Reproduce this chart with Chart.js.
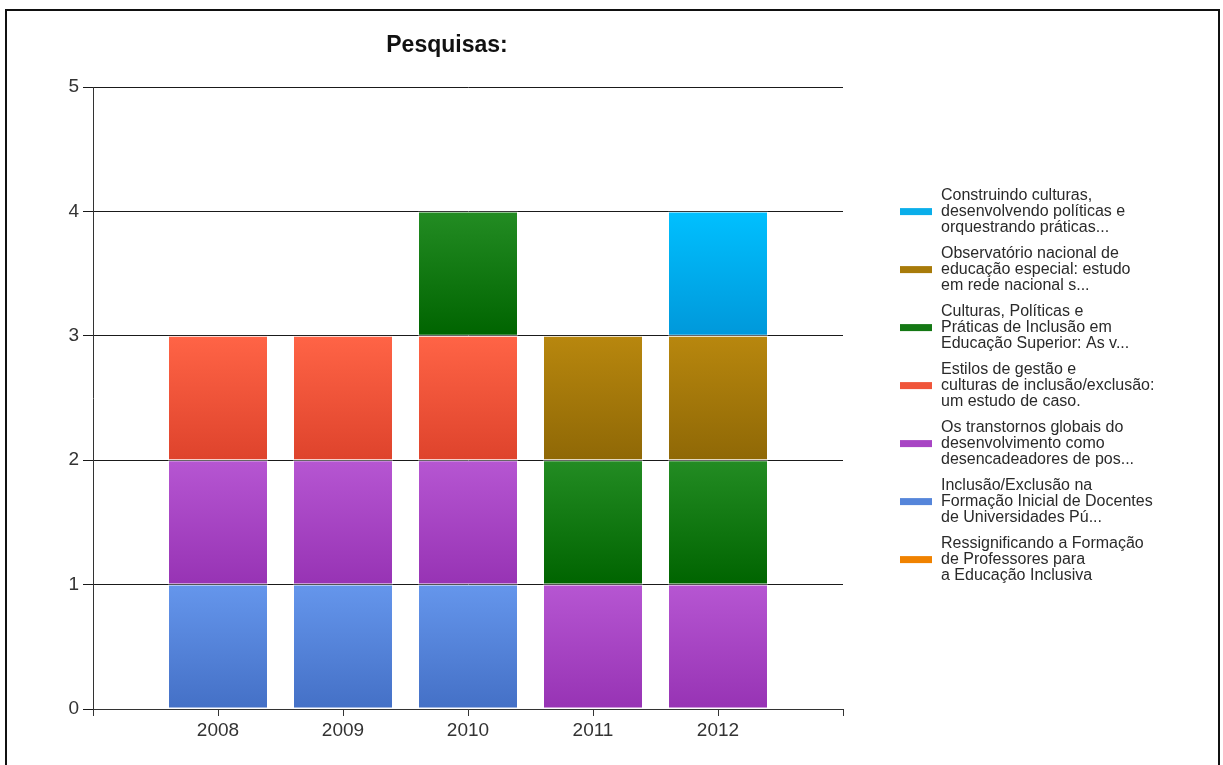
<!DOCTYPE html>
<html><head><meta charset="utf-8">
<script src="https://cdn.jsdelivr.net/npm/chart.js@4.4.0/dist/chart.umd.min.js"></script>
<style>
html,body{margin:0;padding:0;background:#fff;overflow:hidden;}
#wrap{position:relative;width:1223px;height:765px;}
#frame{position:absolute;left:5px;top:9px;width:1215px;height:760px;border:2px solid #111;border-bottom:none;box-sizing:border-box;pointer-events:none;}
canvas{position:absolute;left:0;top:0;}
</style></head><body>
<div id="wrap"><canvas id="c" width="1223" height="765"></canvas><div id="frame"></div></div>
<script>
// ---- data (stack order: bottom first) ----
const categories = ['2008', '2009', '2010', '2011', '2012'];
const chartTitle = 'Pesquisas:';
const yTicks = [0, 1, 2, 3, 4, 5];

const ressignificando = [0, 0, 0, 0, 0];
const inclusaoExclusao = [1, 1, 1, 0, 0];
const transtornosGlobais = [1, 1, 1, 1, 1];
const estilosGestao = [1, 1, 1, 0, 0];
const culturasPoliticas = [0, 0, 1, 1, 1];
const observatorio = [0, 0, 0, 1, 1];
const construindoCulturas = [0, 0, 0, 0, 1];

const nameRessignificando = ['Ressignificando a Formação', 'de Professores para', 'a Educação Inclusiva'];
const nameInclusao = ['Inclusão/Exclusão na', 'Formação Inicial de Docentes', 'de Universidades Pú...'];
const nameTranstornos = ['Os transtornos globais do', 'desenvolvimento como', 'desencadeadores de pos...'];
const nameEstilos = ['Estilos de gestão e', 'culturas de inclusão/exclusão:', 'um estudo de caso.'];
const nameCulturas = ['Culturas, Políticas e', 'Práticas de Inclusão em', 'Educação Superior: As v...'];
const nameObservatorio = ['Observatório nacional de', 'educação especial: estudo', 'em rede nacional s...'];
const nameConstruindo = ['Construindo culturas,', 'desenvolvendo políticas e', 'orquestrando práticas...'];

// ---- styles ----
const series = [
  {name: nameRessignificando, values: ressignificando, top: '#FF9A1A', bottom: '#E67800', box: '#F08200'},
  {name: nameInclusao, values: inclusaoExclusao, top: '#6596EC', bottom: '#4470C6', box: '#5585DA'},
  {name: nameTranstornos, values: transtornosGlobais, top: '#B656D2', bottom: '#9733B4', box: '#A845C4'},
  {name: nameEstilos, values: estilosGestao, top: '#FF6446', bottom: '#DE432C', box: '#F0553A'},
  {name: nameCulturas, values: culturasPoliticas, top: '#238C23', bottom: '#006400', box: '#147814'},
  {name: nameObservatorio, values: observatorio, top: '#B8870E', bottom: '#8F6806', box: '#A87B0A'},
  {name: nameConstruindo, values: construindoCulturas, top: '#00C0FF', bottom: '#0098DA', box: '#0AAEEA'}
];

const labels = [''].concat(categories, ['']);
const FONT = '"Liberation Sans", Arial, sans-serif';

function gradientFor(ctx) {
  const chart = ctx.chart;
  const s = series[ctx.datasetIndex];
  const y = chart.scales && chart.scales.y;
  if (!y || !chart.chartArea) return s.box;
  const i = ctx.dataIndex;
  let start = 0;
  for (let d = 0; d < ctx.datasetIndex; d++) start += (chart.data.datasets[d].data[i] || 0);
  const end = start + (chart.data.datasets[ctx.datasetIndex].data[i] || 0);
  const y0 = y.getPixelForValue(end), y1 = y.getPixelForValue(start);
  if (!isFinite(y0) || !isFinite(y1) || y0 === y1) return s.box;
  const g = chart.ctx.createLinearGradient(0, y0, 0, y1);
  g.addColorStop(0, s.top);
  g.addColorStop(1, s.bottom);
  return g;
}

const datasets = series.map(s => ({
  label: s.name.join(' '),
  data: [null].concat(s.values, [null]),
  backgroundColor: gradientFor,
  borderColor: 'rgba(255,255,255,0.55)',
  borderWidth: c => (c.raw ? 1 : 0),
  borderSkipped: false,
  categoryPercentage: 1.0,
  barPercentage: 0.8
}));

const decorPlugin = {
  id: 'decor',
  afterDraw(chart) {
    const ctx = chart.ctx;
    const a = chart.chartArea;
    ctx.save();
    // title
    ctx.fillStyle = '#111';
    ctx.font = 'bold 23px ' + FONT;
    ctx.textAlign = 'center';
    ctx.textBaseline = 'middle';
    ctx.fillText(chartTitle, (a.left + a.right) / 2 - 21, a.top - 41);
    // legend (top item = last dataset)
    const bx = a.right + 57, tx = a.right + 98;
    const firstY = 196, itemGap = 58, lineH = 15.6;
    ctx.font = '16px ' + FONT;
    ctx.textAlign = 'left';
    const order = series.slice().reverse();
    order.forEach((s, k) => {
      const y0 = firstY + k * itemGap;
      ctx.fillStyle = s.box;
      ctx.fillRect(bx, y0 + lineH - 3.5, 32, 7);
      ctx.fillStyle = '#2a2a2a';
      s.name.forEach((line, j) => ctx.fillText(line, tx, y0 + j * lineH));
    });
    ctx.restore();
  }
};

new Chart(document.getElementById('c'), {
  type: 'bar',
  data: {labels, datasets},
  options: {
    responsive: false,
    animation: false,
    layout: {padding: {left: 53, right: 380, top: 87, bottom: 16}},
    plugins: {legend: {display: false}, title: {display: false}, tooltip: {enabled: false}},
    scales: {
      x: {
        stacked: true,
        offset: false,
        afterFit: s => { s.height = 40; },
        grid: {offset: false, drawOnChartArea: false, drawTicks: true, tickLength: 7, color: '#333', lineWidth: 1},
        border: {color: '#333', width: 1},
        ticks: {color: '#333', font: {family: FONT, size: 19}, padding: 3, maxRotation: 0, autoSkip: false}
      },
      y: {
        stacked: true,
        min: yTicks[0],
        max: yTicks[yTicks.length - 1],
        afterFit: s => { s.width = 40; },
        afterBuildTicks: s => { s.ticks = yTicks.map(v => ({value: v})); },
        grid: {color: '#1a1a1a', lineWidth: 1, tickLength: 10, drawTicks: true},
        border: {color: '#333', width: 1},
        ticks: {color: '#333', font: {family: FONT, size: 19}, padding: 4, stepSize: 1}
      }
    }
  },
  plugins: [decorPlugin]
});
</script>
</body></html>
